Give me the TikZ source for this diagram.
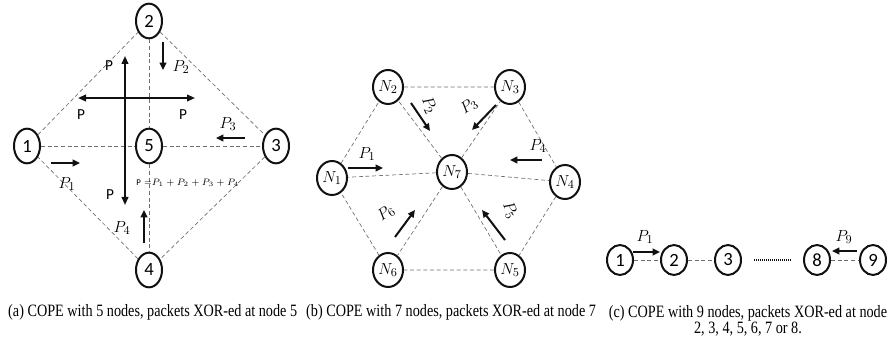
\documentclass[tikz,border=0pt]{standalone}
\usepackage{fontspec}
\usepackage{amsmath}
\setsansfont{Carlito}
\newfontfamily\capfont{Liberation Serif}
\usetikzlibrary{arrows.meta,shapes.geometric}
\definecolor{ink}{HTML}{111111}
\definecolor{link}{HTML}{6E6E6E}
\tikzset{
  nd/.style={ellipse,draw=ink,line width=1.5pt,inner sep=0pt,minimum width=19.5pt,minimum height=26pt,font=\sffamily\fontsize{14}{16}\selectfont},
  ndb/.style={nd,minimum width=22.5pt,minimum height=25.5pt,font=\fontsize{12.5}{14}\selectfont},
  ndc/.style={nd,minimum height=22.5pt},
  lk/.style={draw=link,line width=.5pt,dash pattern=on 3pt off 2pt},
  dots/.style={draw=ink,line width=1.8pt,dash pattern=on .9pt off .6pt,shorten <=9pt,shorten >=9pt},
  pkt/.style={-{Triangle[length=5.5pt,width=5pt]},draw=ink,line width=1.5pt},
  bc/.style={{Triangle[length=6pt,width=5pt]}-{Triangle[length=6pt,width=5pt]},draw=ink,line width=1.3pt},
  lab/.style={font=\fontsize{13}{15}\selectfont,inner sep=0pt},
  sp/.style={font=\sffamily\fontsize{11.5}{13}\selectfont,inner sep=0pt},
  capt/.style={font=\capfont\fontsize{13}{12}\selectfont,xscale=.82,inner sep=0pt,align=center},
}

\begin{document}
\begin{tikzpicture}[x=.75pt,y=-.75pt]
  \useasboundingbox (0,0) rectangle (891,345);
  % (a) five nodes
  \node[nd] (a1) at (27,146) {1};
  \node[nd] (a2) at (149,21) {2};
  \node[nd] (a3) at (276,146) {3};
  \node[nd] (a4) at (149,270) {4};
  \node[nd] (a5) at (149,146) {5};
  \draw[lk] (a1) -- (a2) -- (a3) -- (a4) -- (a1);
  \draw[lk] (a1) -- (a5) -- (a3) (a2) -- (a5) -- (a4);
  \foreach \n/\xa/\ya/\xb/\yb in {pa1/51/163/80/163,pa2/163/42/163/70,pa3/245/138/216/138,pa4/144/243/144/210} {
    \coordinate (\n s) at (\xa,\ya);
    \coordinate (\n e) at (\xb,\yb);
    \draw[pkt] (\n s) -- (\n e);
  }
  \coordinate (vt) at (125,56);
  \coordinate (vb) at (125,205);
  \coordinate (hl) at (78,98);
  \coordinate (hr) at (195,98);
  \draw[bc] (vt) -- (vb);
  \draw[bc] (hl) -- (hr);
  \node[lab] (la1) at (67,184) {$P_1$};
  \node[lab] (la2) at (181,67) {$P_2$};
  \node[lab] (la3) at (228,124) {$P_3$};
  \node[lab] (la4) at (122,228) {$P_4$};
  \node[sp] (sa1) at (109,66) {P};
  \node[sp] (sa2) at (81,115) {P};
  \node[sp] (sa3) at (183,115) {P};
  \node[sp] (sa4) at (110,195) {P};
  \node[inner sep=0pt,anchor=west,font=\fontsize{6.6}{8}\selectfont] (sum) at (136,183) {\textsf{P} =$P_1+P_2+P_3+P_4$};
  % (b) seven nodes
  \node[ndb] (b1) at (332,178) {$N_1$};
  \node[ndb] (b2) at (388,87) {$N_2$};
  \node[ndb] (b3) at (510,87) {$N_3$};
  \node[ndb] (b4) at (565,182) {$N_4$};
  \node[ndb] (b5) at (510,270) {$N_5$};
  \node[ndb] (b6) at (388,270) {$N_6$};
  \node[ndb] (b7) at (452,172) {$N_7$};
  \draw[lk] (b1) -- (b2) -- (b3) -- (b4) -- (b5) -- (b6) -- (b1);
  \foreach \k in {1,...,6} \draw[lk] (b7) -- (b\k);
  \foreach \n/\xa/\ya/\xb/\yb in {pb1/348/168/383/168,pb2/411/103/430/131,pb3/496/105/472/130,pb4/542/160/510/160,pb5/505/240/482/210,pb6/395/237/415/210} {
    \coordinate (\n s) at (\xa,\ya);
    \coordinate (\n e) at (\xb,\yb);
    \draw[pkt] (\n s) -- (\n e);
  }
  \node[lab] (lb1) at (367,154) {$P_1$};
  \node[lab,rotate=-65] (lb2) at (429,105) {$P_2$};
  \node[lab,rotate=35] (lb3) at (469,106) {$P_3$};
  \node[lab] (lb4) at (538,146) {$P_4$};
  \node[lab,rotate=-65] (lb5) at (510,210) {$P_5$};
  \node[lab,rotate=35] (lb6) at (386,213) {$P_6$};
  % (c) nine nodes in a line
  \node[ndc] (c1) at (620,260) {1};
  \node[ndc] (c2) at (674,260) {2};
  \node[ndc] (c3) at (728,260) {3};
  \node[ndc] (c8) at (817,260) {8};
  \node[ndc] (c9) at (873,260) {9};
  \draw[lk] (c1) -- (c2) -- (c3) (c8) -- (c9);
  \draw[dots] (c3) -- (c8);
  \foreach \n/\xa/\ya/\xb/\yb in {pc1/633/252/660/252,pc9/857/251/832/251} {
    \coordinate (\n s) at (\xa,\ya);
    \coordinate (\n e) at (\xb,\yb);
    \draw[pkt] (\n s) -- (\n e);
  }
  \node[lab] (lc1) at (645,237) {$P_1$};
  \node[lab] (lc9) at (844,237) {$P_9$};
  % captions
  \node[capt,anchor=west] (capa) at (8,312) {(a) COPE with 5 nodes, packets XOR-ed at node 5};
  \node[capt,anchor=west] (capb) at (306,312) {(b) COPE with 7 nodes, packets XOR-ed at node 7};
  \node[capt,anchor=north] (capc) at (748,305) {(c) COPE with 9 nodes, packets XOR-ed at node\\2, 3, 4, 5, 6, 7 or 8.};
\end{tikzpicture}
\end{document}
